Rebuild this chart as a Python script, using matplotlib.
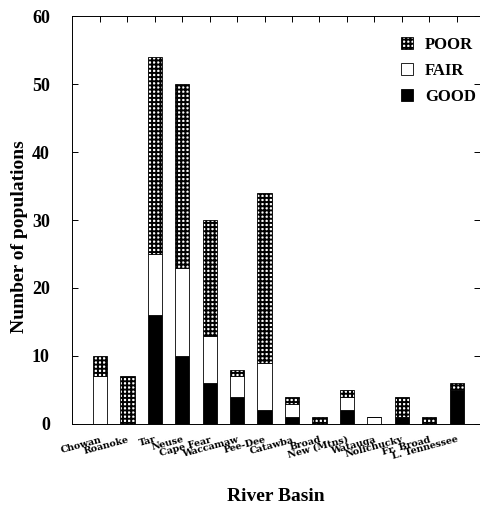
import numpy as np
import matplotlib
matplotlib.use('Agg')
import matplotlib.pyplot as plt

# Numero de populacoes por bacia hidrografica, por condicao
basins = ["Chowan", "Roanoke", "Tar", "Neuse", "Cape Fear", "Waccamaw", "Pee-Dee",
          "Catawba", "Broad", "New (Mtns)", "Watauga", "Nolichucky", "Fr. Broad",
          "L. Tennessee"]
good = [0, 0, 16, 10, 6, 4, 2, 1, 0, 2, 0, 1, 0, 5]
fair = [7, 0, 9, 13, 7, 3, 7, 2, 0, 2, 1, 0, 0, 0]
poor = [3, 7, 29, 27, 17, 1, 25, 1, 1, 1, 0, 3, 1, 1]
yticks = [0, 10, 20, 30, 40, 50, 60]


def plotar(saida='out.png'):
    plt.rcParams['font.family'] = ['Liberation Serif', 'DejaVu Serif']
    plt.rcParams['font.weight'] = 'bold'
    plt.rcParams['hatch.linewidth'] = 1.4

    fig = plt.figure(figsize=(4.81, 5.11), dpi=100)
    ax = fig.add_axes([72 / 481, 1 - 424 / 511, 408 / 481, 408 / 511])

    x = np.arange(len(basins))
    g = np.array(good)
    f = np.array(fair)
    p = np.array(poor)
    w = 0.52

    b_good = ax.bar(x, g, w, color='black', edgecolor='black', lw=0.6)
    b_fair = ax.bar(x, f, w, bottom=g, color='white', edgecolor='black', lw=0.6)
    b_poor = ax.bar(x, p, w, bottom=g + f, color='white', edgecolor='black',
                    hatch='++++', lw=0.6)

    ax.set_xlim(-1.02, 13.85)
    ax.set_ylim(0, 60)
    ax.set_yticks(yticks)
    ax.tick_params(axis='y', direction='in', length=4, width=0.7, pad=16,
                   labelsize=13, right=True)
    ax.set_xticks(x)
    # rotulos inclinados, fonte mais larga como no original
    ax.set_xticklabels(basins, rotation=15, ha='right', rotation_mode='anchor',
                       fontsize=6.8, family='DejaVu Serif')
    ax.tick_params(axis='x', bottom=False, top=True, direction='in', length=4,
                   width=0.7, pad=8)
    ax.spines['right'].set_visible(False)
    for s in ['left', 'top', 'bottom']:
        ax.spines[s].set_linewidth(0.7)

    ax.set_ylabel('Number of populations', fontsize=14, fontweight='bold')
    ax.yaxis.set_label_coords(-0.108, 0.46)
    ax.set_xlabel('River Basin', fontsize=14, fontweight='bold')
    ax.xaxis.set_label_coords(0.5, -0.157)

    ax.legend([b_poor, b_fair, b_good], ['POOR', 'FAIR', 'GOOD'],
              loc='upper left', bbox_to_anchor=(0.79, 0.965), frameon=False,
              fontsize=12, handlelength=0.75, handleheight=0.75,
              handletextpad=0.7, labelspacing=0.6, borderaxespad=0)

    fig.savefig(saida, dpi=100)


if __name__ == "__main__":
    plotar()
